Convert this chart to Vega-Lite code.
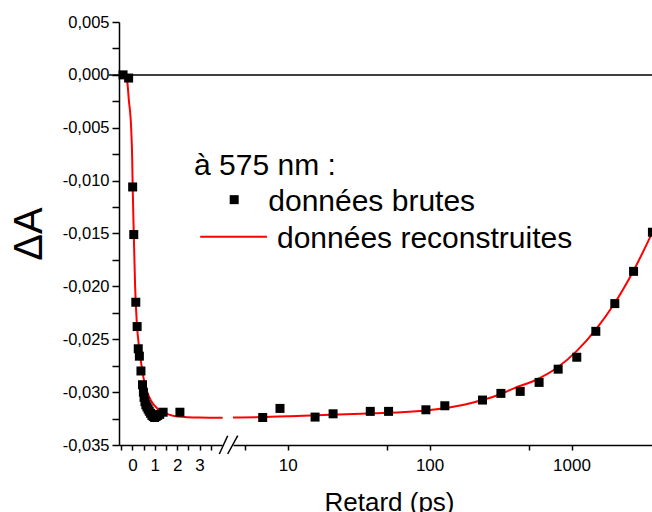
{
  "$schema": "https://vega.github.io/schema/vega-lite/v6.json",
  "background": "white",
  "padding": {"left": 9, "top": 14, "right": 0, "bottom": 0},
  "bounds": "flush",
  "spacing": 11,
  "config": {
    "view": {"stroke": null},
    "font": "Liberation Sans",
    "axis": {
      "grid": false,
      "domainColor": "black",
      "domainWidth": 1.5,
      "tickColor": "black",
      "tickWidth": 1.5,
      "labelColor": "black",
      "titleColor": "black",
      "labelFont": "Liberation Sans",
      "titleFont": "Liberation Sans",
      "titleFontWeight": "normal"
    }
  },
  "datasets": {
    "brutes_court": [
      {"retard": -0.42, "dA": 0.0000},
      {"retard": -0.17, "dA": -0.0003},
      {"retard": 0.01, "dA": -0.0106},
      {"retard": 0.06, "dA": -0.0151},
      {"retard": 0.15, "dA": -0.0215},
      {"retard": 0.21, "dA": -0.0238},
      {"retard": 0.26, "dA": -0.0259},
      {"retard": 0.31, "dA": -0.0266},
      {"retard": 0.38, "dA": -0.0280},
      {"retard": 0.45, "dA": -0.0293},
      {"retard": 0.49, "dA": -0.0300},
      {"retard": 0.52, "dA": -0.0305},
      {"retard": 0.56, "dA": -0.0309},
      {"retard": 0.60, "dA": -0.0312},
      {"retard": 0.65, "dA": -0.0314},
      {"retard": 0.70, "dA": -0.0316},
      {"retard": 0.75, "dA": -0.0318},
      {"retard": 0.81, "dA": -0.0320},
      {"retard": 0.87, "dA": -0.0322},
      {"retard": 0.93, "dA": -0.0323},
      {"retard": 0.99, "dA": -0.0324},
      {"retard": 1.06, "dA": -0.0323},
      {"retard": 1.13, "dA": -0.0322},
      {"retard": 1.22, "dA": -0.0321},
      {"retard": 1.37, "dA": -0.0319},
      {"retard": 2.12, "dA": -0.0319}
    ],
    "fit_court": [
      {"retard": -0.35, "dA": 0.0000},
      {"retard": -0.24, "dA": -0.0005},
      {"retard": -0.16, "dA": -0.0024},
      {"retard": -0.06, "dA": -0.0049},
      {"retard": -0.01, "dA": -0.0080},
      {"retard": 0.01, "dA": -0.0105},
      {"retard": 0.06, "dA": -0.0150},
      {"retard": 0.12, "dA": -0.0200},
      {"retard": 0.2, "dA": -0.0236},
      {"retard": 0.3, "dA": -0.0258},
      {"retard": 0.4, "dA": -0.0274},
      {"retard": 0.5, "dA": -0.0287},
      {"retard": 0.6, "dA": -0.0296},
      {"retard": 0.8, "dA": -0.0307},
      {"retard": 1.0, "dA": -0.0313},
      {"retard": 1.2, "dA": -0.0317},
      {"retard": 1.6, "dA": -0.0321},
      {"retard": 2.0, "dA": -0.0323},
      {"retard": 3.0, "dA": -0.0324},
      {"retard": 4.03, "dA": -0.03242}
    ],
    "brutes_long": [
      {"retard": 6.67, "dA": -0.0324},
      {"retard": 8.83, "dA": -0.03154},
      {"retard": 15.6, "dA": -0.03236},
      {"retard": 20.9, "dA": -0.03205},
      {"retard": 38.2, "dA": -0.03182},
      {"retard": 51.4, "dA": -0.03182},
      {"retard": 94.2, "dA": -0.03167},
      {"retard": 128, "dA": -0.03129},
      {"retard": 236, "dA": -0.03075},
      {"retard": 318, "dA": -0.03012},
      {"retard": 435, "dA": -0.02993},
      {"retard": 591, "dA": -0.02908},
      {"retard": 805, "dA": -0.02783},
      {"retard": 1089, "dA": -0.0267},
      {"retard": 1483, "dA": -0.02425},
      {"retard": 2018, "dA": -0.02163},
      {"retard": 2736, "dA": -0.01858},
      {"retard": 3715, "dA": -0.01488}
    ],
    "fit_long": [
      {"retard": 4.12, "dA": -0.03240},
      {"retard": 6, "dA": -0.03237},
      {"retard": 10, "dA": -0.03228},
      {"retard": 20, "dA": -0.03215},
      {"retard": 40, "dA": -0.03200},
      {"retard": 63, "dA": -0.03190},
      {"retard": 100, "dA": -0.03168},
      {"retard": 150, "dA": -0.03135},
      {"retard": 200, "dA": -0.03100},
      {"retard": 300, "dA": -0.03030},
      {"retard": 400, "dA": -0.02960},
      {"retard": 550, "dA": -0.02890},
      {"retard": 800, "dA": -0.02765},
      {"retard": 1090, "dA": -0.02610},
      {"retard": 1500, "dA": -0.02400},
      {"retard": 2000, "dA": -0.02165},
      {"retard": 2750, "dA": -0.01845},
      {"retard": 3750, "dA": -0.01478}
    ]
  },
  "hconcat": [
    {
      "width": 103,
      "height": 423,
      "layer": [
        {
          "data": {"name": "fit_court"},
          "mark": {"type": "line", "color": "#ff0000", "strokeWidth": 2, "interpolate": "monotone"},
          "encoding": {
            "x": {
              "field": "retard", "type": "quantitative",
              "scale": {"domain": [-0.6, 4.0], "nice": false, "zero": false},
              "axis": {
                "title": null,
                "values": [-0.5, 0, 0.5, 1, 1.5, 2, 2.5, 3, 3.5],
                "labelExpr": "datum.value == round(datum.value) ? '' + datum.value : ''",
                "tickSize": 5,
                "labelFontSize": 17,
                "labelPadding": 7,
                "labelFlush": false,
                "labelOverlap": false
              }
            },
            "y": {
              "field": "dA", "type": "quantitative",
              "scale": {"domain": [-0.035, 0.005], "nice": false, "zero": false},
              "axis": {
                "title": "ΔA",
                "titleFontSize": 40,
                "titlePadding": 13,
                "values": [0.005, 0.0025, 0, -0.0025, -0.005, -0.0075, -0.01, -0.0125, -0.015, -0.0175, -0.02, -0.0225, -0.025, -0.0275, -0.03, -0.0325, -0.035],
                "labelExpr": "round(datum.value * 400) % 2 == 0 ? replace(replace(format(datum.value, '.3f'), '.', ','), '−', '-') : ''",
                "tickSize": 7,
                "labelFontSize": 16.5,
                "labelPadding": 3,
                "labelFlush": false,
                "labelOverlap": false
              }
            }
          }
        },
        {
          "data": {"name": "brutes_court"},
          "mark": {"type": "square", "color": "black", "size": 81, "opacity": 1, "filled": true},
          "encoding": {
            "x": {
              "field": "retard", "type": "quantitative",
              "scale": {"domain": [-0.6, 4.0], "nice": false, "zero": false},
              "axis": {
                "title": null,
                "values": [-0.5, 0, 0.5, 1, 1.5, 2, 2.5, 3, 3.5],
                "labelExpr": "datum.value == round(datum.value) ? '' + datum.value : ''",
                "tickSize": 5,
                "labelFontSize": 17,
                "labelPadding": 7,
                "labelFlush": false,
                "labelOverlap": false
              }
            },
            "y": {
              "field": "dA", "type": "quantitative",
              "scale": {"domain": [-0.035, 0.005], "nice": false, "zero": false},
              "axis": {
                "title": "ΔA",
                "titleFontSize": 40,
                "titlePadding": 13,
                "values": [0.005, 0.0025, 0, -0.0025, -0.005, -0.0075, -0.01, -0.0125, -0.015, -0.0175, -0.02, -0.0225, -0.025, -0.0275, -0.03, -0.0325, -0.035],
                "labelExpr": "round(datum.value * 400) % 2 == 0 ? replace(replace(format(datum.value, '.3f'), '.', ','), '−', '-') : ''",
                "tickSize": 7,
                "labelFontSize": 16.5,
                "labelPadding": 3,
                "labelFlush": false,
                "labelOverlap": false
              }
            }
          }
        }
      ]
    },
    {
      "width": 420,
      "height": 423,
      "layer": [
        {
          "data": {"values": [{"k": 1}]},
          "mark": {"type": "rule", "color": "black", "strokeWidth": 1.5},
          "encoding": {
            "x": {"datum": 0.55, "type": "quantitative"},
            "x2": {"datum": 3750},
            "y": {"datum": 0, "type": "quantitative"}
          }
        },
        {
          "data": {"name": "fit_long"},
          "mark": {"type": "line", "color": "#ff0000", "strokeWidth": 2, "interpolate": "monotone"},
          "encoding": {
            "x": {"field": "retard", "type": "quantitative", "scale": {"type": "log", "domain": [4.12, 3750], "nice": false}},
            "y": {"field": "dA", "type": "quantitative", "scale": {"domain": [-0.035, 0.005], "nice": false, "zero": false},
                  "axis": {"title": null, "domain": false, "ticks": false, "labels": false}}
          }
        },
        {
          "data": {"name": "brutes_long"},
          "mark": {"type": "square", "color": "black", "size": 81, "opacity": 1, "filled": true},
          "encoding": {
            "x": {
              "field": "retard", "type": "quantitative",
              "scale": {"type": "log", "domain": [4.12, 3750], "nice": false},
              "axis": {
                "title": "Retard (ps)",
                "titleFontSize": 26,
                "titleX": 156,
                "titleY": 65,
                "titleAlign": "center",
                "titleBaseline": "alphabetic",
                "values": [5, 10, 50, 100, 500, 1000],
                "labelExpr": "datum.value == 10 || datum.value == 100 || datum.value == 1000 ? '' + datum.value : ''",
                "tickSize": 5,
                "labelFontSize": 17,
                "labelPadding": 7,
                "labelFlush": false,
                "labelOverlap": false
              }
            },
            "y": {"field": "dA", "type": "quantitative", "scale": {"domain": [-0.035, 0.005], "nice": false, "zero": false},
                  "axis": {"title": null, "domain": false, "ticks": false, "labels": false}}
          }
        },
        {
          "data": {"values": [{"k": 1}]},
          "mark": {"type": "rule", "color": "black", "strokeWidth": 1.5},
          "encoding": {
            "x": {"datum": 3.3, "type": "quantitative"}, "x2": {"datum": 3.78},
            "y": {"datum": -0.03585, "type": "quantitative"}, "y2": {"datum": -0.03412}
          }
        },
        {
          "data": {"values": [{"k": 1}]},
          "mark": {"type": "rule", "color": "black", "strokeWidth": 1.5},
          "encoding": {
            "x": {"datum": 3.78, "type": "quantitative"}, "x2": {"datum": 4.45},
            "y": {"datum": -0.03585, "type": "quantitative"}, "y2": {"datum": -0.03412}
          }
        },
        {
          "data": {"values": [{"k": 1}]},
          "mark": {"type": "text", "text": "à 575 nm :", "fontSize": 30, "align": "left", "baseline": "alphabetic", "font": "Liberation Sans", "color": "black"},
          "encoding": {"x": {"datum": 2.19, "type": "quantitative"}, "y": {"datum": -0.00943, "type": "quantitative"}}
        },
        {
          "data": {"values": [{"k": 1}]},
          "mark": {"type": "square", "color": "black", "size": 81, "opacity": 1, "filled": true},
          "encoding": {"x": {"datum": 4.2, "type": "quantitative"}, "y": {"datum": -0.0118, "type": "quantitative"}}
        },
        {
          "data": {"values": [{"k": 1}]},
          "mark": {"type": "text", "text": "données brutes", "fontSize": 30, "align": "left", "baseline": "alphabetic", "font": "Liberation Sans", "color": "black"},
          "encoding": {"x": {"datum": 7.3, "type": "quantitative"}, "y": {"datum": -0.0129, "type": "quantitative"}}
        },
        {
          "data": {"values": [{"k": 1}]},
          "mark": {"type": "rule", "color": "#ff0000", "strokeWidth": 2},
          "encoding": {"x": {"datum": 2.42, "type": "quantitative"}, "x2": {"datum": 7.15}, "y": {"datum": -0.01531, "type": "quantitative"}}
        },
        {
          "data": {"values": [{"k": 1}]},
          "mark": {"type": "text", "text": "données reconstruites", "fontSize": 30, "align": "left", "baseline": "alphabetic", "font": "Liberation Sans", "color": "black"},
          "encoding": {"x": {"datum": 8.41, "type": "quantitative"}, "y": {"datum": -0.01635, "type": "quantitative"}}
        }
      ]
    }
  ]
}
